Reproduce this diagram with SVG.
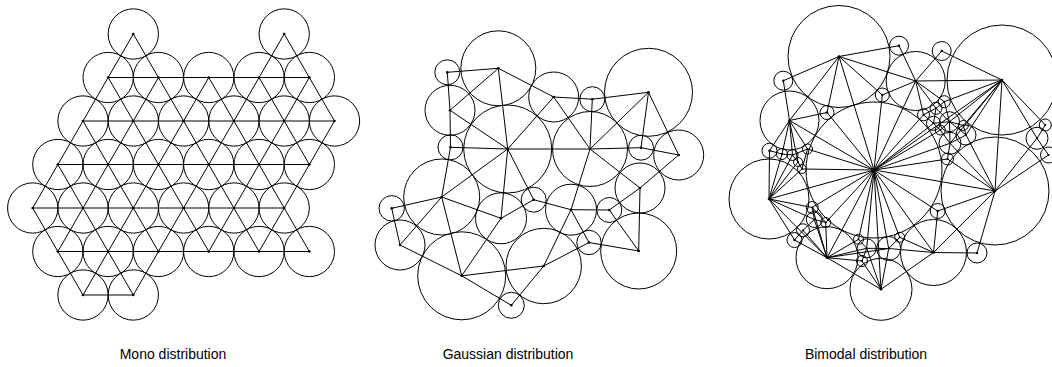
<svg xmlns="http://www.w3.org/2000/svg" width="1052" height="367" viewBox="0 0 1052 367">
<style>
.c{fill:none;stroke:#000;stroke-width:1}
.d{fill:#000}
.e line{stroke:#000;stroke-width:1}
.t{font-family:"Liberation Sans",Arial,sans-serif;font-size:14px;fill:#000;text-anchor:middle}
</style>
<rect width="1052" height="367" fill="#fff"/>
<!-- ===== Mono distribution ===== -->
<g id="mono-connectors" class="e">
<line x1="108.15" y1="77.5" x2="309.35" y2="77.5"/>
<line x1="83" y1="121" x2="334.5" y2="121"/>
<line x1="57.85" y1="164.5" x2="309.35" y2="164.5"/>
<line x1="32.7" y1="208" x2="284.2" y2="208"/>
<line x1="57.85" y1="251.5" x2="309.35" y2="251.5"/>
<line x1="83" y1="295" x2="133.3" y2="295"/>
<line x1="284.2" y1="34" x2="334.5" y2="121"/>
<line x1="259.05" y1="77.5" x2="309.35" y2="164.5"/>
<line x1="208.75" y1="77.5" x2="309.35" y2="251.5"/>
<line x1="133.3" y1="34" x2="259.05" y2="251.5"/>
<line x1="108.15" y1="77.5" x2="208.75" y2="251.5"/>
<line x1="83" y1="121" x2="158.45" y2="251.5"/>
<line x1="57.85" y1="164.5" x2="133.3" y2="295"/>
<line x1="32.7" y1="208" x2="83" y2="295"/>
<line x1="133.3" y1="34" x2="32.7" y2="208"/>
<line x1="158.45" y1="77.5" x2="57.85" y2="251.5"/>
<line x1="208.75" y1="77.5" x2="83" y2="295"/>
<line x1="284.2" y1="34" x2="133.3" y2="295"/>
<line x1="309.35" y1="77.5" x2="208.75" y2="251.5"/>
<line x1="334.5" y1="121" x2="259.05" y2="251.5"/>
</g>
<g id="m0a"><circle class="c" cx="133.3" cy="34" r="25.15"/><circle class="d" cx="133.3" cy="34" r="1.3"/></g>
<g id="m0b"><circle class="c" cx="284.2" cy="34" r="25.15"/><circle class="d" cx="284.2" cy="34" r="1.3"/></g>
<g id="m1a"><circle class="c" cx="108.15" cy="77.5" r="25.15"/><circle class="d" cx="108.15" cy="77.5" r="1.3"/></g>
<g id="m1b"><circle class="c" cx="158.45" cy="77.5" r="25.15"/><circle class="d" cx="158.45" cy="77.5" r="1.3"/></g>
<g id="m1c"><circle class="c" cx="208.75" cy="77.5" r="25.15"/><circle class="d" cx="208.75" cy="77.5" r="1.3"/></g>
<g id="m1d"><circle class="c" cx="259.05" cy="77.5" r="25.15"/><circle class="d" cx="259.05" cy="77.5" r="1.3"/></g>
<g id="m1e"><circle class="c" cx="309.35" cy="77.5" r="25.15"/><circle class="d" cx="309.35" cy="77.5" r="1.3"/></g>
<g id="m2a"><circle class="c" cx="83" cy="121" r="25.15"/><circle class="d" cx="83" cy="121" r="1.3"/></g>
<g id="m2b"><circle class="c" cx="133.3" cy="121" r="25.15"/><circle class="d" cx="133.3" cy="121" r="1.3"/></g>
<g id="m2c"><circle class="c" cx="183.6" cy="121" r="25.15"/><circle class="d" cx="183.6" cy="121" r="1.3"/></g>
<g id="m2d"><circle class="c" cx="233.9" cy="121" r="25.15"/><circle class="d" cx="233.9" cy="121" r="1.3"/></g>
<g id="m2e"><circle class="c" cx="284.2" cy="121" r="25.15"/><circle class="d" cx="284.2" cy="121" r="1.3"/></g>
<g id="m2f"><circle class="c" cx="334.5" cy="121" r="25.15"/><circle class="d" cx="334.5" cy="121" r="1.3"/></g>
<g id="m3a"><circle class="c" cx="57.85" cy="164.5" r="25.15"/><circle class="d" cx="57.85" cy="164.5" r="1.3"/></g>
<g id="m3b"><circle class="c" cx="108.15" cy="164.5" r="25.15"/><circle class="d" cx="108.15" cy="164.5" r="1.3"/></g>
<g id="m3c"><circle class="c" cx="158.45" cy="164.5" r="25.15"/><circle class="d" cx="158.45" cy="164.5" r="1.3"/></g>
<g id="m3d"><circle class="c" cx="208.75" cy="164.5" r="25.15"/><circle class="d" cx="208.75" cy="164.5" r="1.3"/></g>
<g id="m3e"><circle class="c" cx="259.05" cy="164.5" r="25.15"/><circle class="d" cx="259.05" cy="164.5" r="1.3"/></g>
<g id="m3f"><circle class="c" cx="309.35" cy="164.5" r="25.15"/><circle class="d" cx="309.35" cy="164.5" r="1.3"/></g>
<g id="m4a"><circle class="c" cx="32.7" cy="208" r="25.15"/><circle class="d" cx="32.7" cy="208" r="1.3"/></g>
<g id="m4b"><circle class="c" cx="83" cy="208" r="25.15"/><circle class="d" cx="83" cy="208" r="1.3"/></g>
<g id="m4c"><circle class="c" cx="133.3" cy="208" r="25.15"/><circle class="d" cx="133.3" cy="208" r="1.3"/></g>
<g id="m4d"><circle class="c" cx="183.6" cy="208" r="25.15"/><circle class="d" cx="183.6" cy="208" r="1.3"/></g>
<g id="m4e"><circle class="c" cx="233.9" cy="208" r="25.15"/><circle class="d" cx="233.9" cy="208" r="1.3"/></g>
<g id="m4f"><circle class="c" cx="284.2" cy="208" r="25.15"/><circle class="d" cx="284.2" cy="208" r="1.3"/></g>
<g id="m5a"><circle class="c" cx="57.85" cy="251.5" r="25.15"/><circle class="d" cx="57.85" cy="251.5" r="1.3"/></g>
<g id="m5b"><circle class="c" cx="108.15" cy="251.5" r="25.15"/><circle class="d" cx="108.15" cy="251.5" r="1.3"/></g>
<g id="m5c"><circle class="c" cx="158.45" cy="251.5" r="25.15"/><circle class="d" cx="158.45" cy="251.5" r="1.3"/></g>
<g id="m5d"><circle class="c" cx="208.75" cy="251.5" r="25.15"/><circle class="d" cx="208.75" cy="251.5" r="1.3"/></g>
<g id="m5e"><circle class="c" cx="259.05" cy="251.5" r="25.15"/><circle class="d" cx="259.05" cy="251.5" r="1.3"/></g>
<g id="m5f"><circle class="c" cx="309.35" cy="251.5" r="25.15"/><circle class="d" cx="309.35" cy="251.5" r="1.3"/></g>
<g id="m6a"><circle class="c" cx="83" cy="295" r="25.15"/><circle class="d" cx="83" cy="295" r="1.3"/></g>
<g id="m6b"><circle class="c" cx="133.3" cy="295" r="25.15"/><circle class="d" cx="133.3" cy="295" r="1.3"/></g>

<!-- ===== Gaussian distribution ===== -->
<g id="gauss-connectors" class="e">
<line x1="447.3" y1="72.3" x2="498.3" y2="68.3"/>
<line x1="447.3" y1="72.3" x2="450" y2="110.3"/>
<line x1="450" y1="110.3" x2="450.5" y2="147.3"/>
<line x1="498.3" y1="68.3" x2="450" y2="110.3"/>
<line x1="498.3" y1="68.3" x2="507.7" y2="149"/>
<line x1="498.3" y1="68.3" x2="553.7" y2="97"/>
<line x1="450" y1="110.3" x2="507.7" y2="149"/>
<line x1="450.5" y1="147.3" x2="507.7" y2="149"/>
<line x1="450.5" y1="147.3" x2="441.7" y2="197"/>
<line x1="507.7" y1="149" x2="553.7" y2="97"/>
<line x1="507.7" y1="149" x2="590" y2="149"/>
<line x1="507.7" y1="149" x2="441.7" y2="197"/>
<line x1="507.7" y1="149" x2="501" y2="218.3"/>
<line x1="507.7" y1="149" x2="533.7" y2="199.7"/>
<line x1="553.7" y1="97" x2="592.3" y2="99.2"/>
<line x1="553.7" y1="97" x2="590" y2="149"/>
<line x1="592.3" y1="99.2" x2="648.5" y2="92.3"/>
<line x1="592.3" y1="99.2" x2="590" y2="149"/>
<line x1="648.5" y1="92.3" x2="590" y2="149"/>
<line x1="648.5" y1="92.3" x2="641" y2="147.7"/>
<line x1="648.5" y1="92.3" x2="678.7" y2="155"/>
<line x1="590" y1="149" x2="641" y2="147.7"/>
<line x1="641" y1="147.7" x2="678.7" y2="155"/>
<line x1="590" y1="149" x2="640" y2="188"/>
<line x1="678.7" y1="155" x2="640" y2="188"/>
<line x1="590" y1="149" x2="571" y2="209.7"/>
<line x1="640" y1="188" x2="609.3" y2="210"/>
<line x1="640" y1="188" x2="638.7" y2="251"/>
<line x1="609.3" y1="210" x2="638.7" y2="251"/>
<line x1="571" y1="209.7" x2="609.3" y2="210"/>
<line x1="571" y1="209.7" x2="589" y2="242.5"/>
<line x1="589" y1="242.5" x2="638.7" y2="251"/>
<line x1="589" y1="242.5" x2="543.7" y2="266"/>
<line x1="571" y1="209.7" x2="543.7" y2="266"/>
<line x1="533.7" y1="199.7" x2="501" y2="218.3"/>
<line x1="533.7" y1="199.7" x2="571" y2="209.7"/>
<line x1="441.7" y1="197" x2="391.7" y2="208.3"/>
<line x1="441.7" y1="197" x2="501" y2="218.3"/>
<line x1="441.7" y1="197" x2="400" y2="245"/>
<line x1="441.7" y1="197" x2="461.7" y2="275.8"/>
<line x1="391.7" y1="208.3" x2="400" y2="245"/>
<line x1="400" y1="245" x2="461.7" y2="275.8"/>
<line x1="501" y1="218.3" x2="461.7" y2="275.8"/>
<line x1="461.7" y1="275.8" x2="543.7" y2="266"/>
<line x1="461.7" y1="275.8" x2="511.3" y2="305.3"/>
<line x1="511.3" y1="305.3" x2="543.7" y2="266"/>
</g>
<g id="g1"><circle class="c" cx="447.3" cy="72.3" r="12.5"/><circle class="d" cx="447.3" cy="72.3" r="1.3"/></g>
<g id="g2"><circle class="c" cx="498.3" cy="68.3" r="37.5"/><circle class="d" cx="498.3" cy="68.3" r="1.3"/></g>
<g id="g3"><circle class="c" cx="450" cy="110.3" r="25"/><circle class="d" cx="450" cy="110.3" r="1.3"/></g>
<g id="g4"><circle class="c" cx="450.5" cy="147.3" r="12.5"/><circle class="d" cx="450.5" cy="147.3" r="1.3"/></g>
<g id="g5"><circle class="c" cx="507.7" cy="149" r="44"/><circle class="d" cx="507.7" cy="149" r="1.3"/></g>
<g id="g6"><circle class="c" cx="553.7" cy="97" r="25"/><circle class="d" cx="553.7" cy="97" r="1.3"/></g>
<g id="g7"><circle class="c" cx="592.3" cy="99.2" r="12.5"/><circle class="d" cx="592.3" cy="99.2" r="1.3"/></g>
<g id="g8"><circle class="c" cx="648.5" cy="92.3" r="44"/><circle class="d" cx="648.5" cy="92.3" r="1.3"/></g>
<g id="g9"><circle class="c" cx="590" cy="149" r="37.5"/><circle class="d" cx="590" cy="149" r="1.3"/></g>
<g id="g10"><circle class="c" cx="641" cy="147.7" r="12.5"/><circle class="d" cx="641" cy="147.7" r="1.3"/></g>
<g id="g11"><circle class="c" cx="678.7" cy="155" r="25"/><circle class="d" cx="678.7" cy="155" r="1.3"/></g>
<g id="g12"><circle class="c" cx="640" cy="188" r="25"/><circle class="d" cx="640" cy="188" r="1.3"/></g>
<g id="g13"><circle class="c" cx="441.7" cy="197" r="38"/><circle class="d" cx="441.7" cy="197" r="1.3"/></g>
<g id="g14"><circle class="c" cx="391.7" cy="208.3" r="12.7"/><circle class="d" cx="391.7" cy="208.3" r="1.3"/></g>
<g id="g15"><circle class="c" cx="533.7" cy="199.7" r="12.5"/><circle class="d" cx="533.7" cy="199.7" r="1.3"/></g>
<g id="g16"><circle class="c" cx="501" cy="218.3" r="25.5"/><circle class="d" cx="501" cy="218.3" r="1.3"/></g>
<g id="g17"><circle class="c" cx="571" cy="209.7" r="25.5"/><circle class="d" cx="571" cy="209.7" r="1.3"/></g>
<g id="g18"><circle class="c" cx="609.3" cy="210" r="12.5"/><circle class="d" cx="609.3" cy="210" r="1.3"/></g>
<g id="g19"><circle class="c" cx="400" cy="245" r="25"/><circle class="d" cx="400" cy="245" r="1.3"/></g>
<g id="g20"><circle class="c" cx="461.7" cy="275.8" r="44"/><circle class="d" cx="461.7" cy="275.8" r="1.3"/></g>
<g id="g21"><circle class="c" cx="543.7" cy="266" r="37.7"/><circle class="d" cx="543.7" cy="266" r="1.3"/></g>
<g id="g22"><circle class="c" cx="589" cy="242.5" r="12.2"/><circle class="d" cx="589" cy="242.5" r="1.3"/></g>
<g id="g23"><circle class="c" cx="638.7" cy="251" r="38"/><circle class="d" cx="638.7" cy="251" r="1.3"/></g>
<g id="g24"><circle class="c" cx="511.3" cy="305.3" r="13"/><circle class="d" cx="511.3" cy="305.3" r="1.3"/></g>

<!-- ===== Bimodal distribution ===== -->
<g id="bimodal-connectors" class="e">
<line x1="874" y1="170" x2="839" y2="56.5"/>
<line x1="874" y1="170" x2="882.3" y2="95"/>
<line x1="874" y1="170" x2="915.7" y2="81"/>
<line x1="874" y1="170" x2="923.5" y2="114.8"/>
<line x1="874" y1="170" x2="933.5" y2="123.3"/>
<line x1="874" y1="170" x2="940.3" y2="130"/>
<line x1="874" y1="170" x2="950" y2="143.3"/>
<line x1="874" y1="170" x2="1002" y2="80"/>
<line x1="874" y1="170" x2="947.5" y2="159"/>
<line x1="874" y1="170" x2="995" y2="191"/>
<line x1="874" y1="170" x2="937.7" y2="211"/>
<line x1="874" y1="170" x2="933.5" y2="252.5"/>
<line x1="874" y1="170" x2="899.7" y2="237.3"/>
<line x1="874" y1="170" x2="888.7" y2="248.5"/>
<line x1="874" y1="170" x2="866.7" y2="248.3"/>
<line x1="874" y1="170" x2="858.5" y2="239.3"/>
<line x1="874" y1="170" x2="881" y2="289.3"/>
<line x1="874" y1="170" x2="827" y2="257.7"/>
<line x1="874" y1="170" x2="825.7" y2="222.5"/>
<line x1="874" y1="170" x2="812.3" y2="207.5"/>
<line x1="874" y1="170" x2="769" y2="199"/>
<line x1="874" y1="170" x2="802" y2="169"/>
<line x1="874" y1="170" x2="807.5" y2="149"/>
<line x1="874" y1="170" x2="789.5" y2="120.5"/>
<line x1="874" y1="170" x2="827" y2="112.5"/>
<line x1="839" y1="56.5" x2="783.3" y2="80.7"/>
<line x1="839" y1="56.5" x2="789.5" y2="120.5"/>
<line x1="839" y1="56.5" x2="827" y2="112.5"/>
<line x1="839" y1="56.5" x2="882.3" y2="95"/>
<line x1="839" y1="56.5" x2="899" y2="45.7"/>
<line x1="839" y1="56.5" x2="915.7" y2="81"/>
<line x1="783.3" y1="80.7" x2="789.5" y2="120.5"/>
<line x1="789.5" y1="120.5" x2="827" y2="112.5"/>
<line x1="789.5" y1="120.5" x2="769.5" y2="150.7"/>
<line x1="789.5" y1="120.5" x2="782" y2="154"/>
<line x1="789.5" y1="120.5" x2="792.5" y2="155"/>
<line x1="789.5" y1="120.5" x2="798" y2="162"/>
<line x1="789.5" y1="120.5" x2="807.5" y2="149"/>
<line x1="899" y1="45.7" x2="915.7" y2="81"/>
<line x1="941.7" y1="51" x2="915.7" y2="81"/>
<line x1="941.7" y1="51" x2="1002" y2="80"/>
<line x1="915.7" y1="81" x2="1002" y2="80"/>
<line x1="915.7" y1="81" x2="882.3" y2="95"/>
<line x1="915.7" y1="81" x2="923.5" y2="114.8"/>
<line x1="915.7" y1="81" x2="936" y2="108.3"/>
<line x1="915.7" y1="81" x2="944.3" y2="101.7"/>
<line x1="1002" y1="80" x2="944.3" y2="101.7"/>
<line x1="1002" y1="80" x2="949.5" y2="121.7"/>
<line x1="1002" y1="80" x2="963.3" y2="125.5"/>
<line x1="1002" y1="80" x2="966" y2="135"/>
<line x1="1002" y1="80" x2="950" y2="143.3"/>
<line x1="1002" y1="80" x2="995" y2="191"/>
<line x1="1002" y1="80" x2="1045.3" y2="125"/>
<line x1="1002" y1="80" x2="1037" y2="138.3"/>
<line x1="995" y1="191" x2="1037" y2="138.3"/>
<line x1="995" y1="191" x2="1048.5" y2="155"/>
<line x1="995" y1="191" x2="966" y2="135"/>
<line x1="995" y1="191" x2="950" y2="143.3"/>
<line x1="995" y1="191" x2="947.5" y2="159"/>
<line x1="995" y1="191" x2="937.7" y2="211"/>
<line x1="995" y1="191" x2="933.5" y2="252.5"/>
<line x1="995" y1="191" x2="977" y2="253"/>
<line x1="933.5" y1="252.5" x2="977" y2="253"/>
<line x1="933.5" y1="252.5" x2="937.7" y2="211"/>
<line x1="933.5" y1="252.5" x2="899.7" y2="237.3"/>
<line x1="933.5" y1="252.5" x2="888.7" y2="248.5"/>
<line x1="933.5" y1="252.5" x2="881" y2="289.3"/>
<line x1="881" y1="289.3" x2="888.7" y2="248.5"/>
<line x1="881" y1="289.3" x2="862" y2="261"/>
<line x1="881" y1="289.3" x2="866.7" y2="248.3"/>
<line x1="881" y1="289.3" x2="827" y2="257.7"/>
<line x1="827" y1="257.7" x2="858.5" y2="239.3"/>
<line x1="827" y1="257.7" x2="866.7" y2="248.3"/>
<line x1="827" y1="257.7" x2="862" y2="261"/>
<line x1="827" y1="257.7" x2="888.7" y2="248.5"/>
<line x1="827" y1="257.7" x2="825.7" y2="222.5"/>
<line x1="827" y1="257.7" x2="814.3" y2="219.5"/>
<line x1="827" y1="257.7" x2="812.3" y2="207.5"/>
<line x1="827" y1="257.7" x2="803" y2="230.3"/>
<line x1="827" y1="257.7" x2="794.5" y2="240"/>
<line x1="827" y1="257.7" x2="769" y2="199"/>
<line x1="769" y1="199" x2="769.5" y2="150.7"/>
<line x1="769" y1="199" x2="782" y2="154"/>
<line x1="769" y1="199" x2="792.5" y2="155"/>
<line x1="769" y1="199" x2="798" y2="162"/>
<line x1="769" y1="199" x2="802" y2="169"/>
<line x1="769" y1="199" x2="812.3" y2="207.5"/>
<line x1="769" y1="199" x2="814.3" y2="219.5"/>
<line x1="769" y1="199" x2="794.5" y2="240"/>
<line x1="769.5" y1="150.7" x2="782" y2="154"/>
<line x1="782" y1="154" x2="792.5" y2="155"/>
<line x1="792.5" y1="155" x2="798" y2="162"/>
<line x1="798" y1="162" x2="802" y2="169"/>
<line x1="792.5" y1="155" x2="807.5" y2="149"/>
<line x1="807.5" y1="149" x2="802" y2="169"/>
<line x1="812.3" y1="207.5" x2="814.3" y2="219.5"/>
<line x1="814.3" y1="219.5" x2="825.7" y2="222.5"/>
<line x1="814.3" y1="219.5" x2="803" y2="230.3"/>
<line x1="803" y1="230.3" x2="794.5" y2="240"/>
<line x1="812.3" y1="207.5" x2="825.7" y2="222.5"/>
<line x1="858.5" y1="239.3" x2="866.7" y2="248.3"/>
<line x1="866.7" y1="248.3" x2="862" y2="261"/>
<line x1="866.7" y1="248.3" x2="888.7" y2="248.5"/>
<line x1="888.7" y1="248.5" x2="899.7" y2="237.3"/>
<line x1="944.3" y1="101.7" x2="936" y2="108.3"/>
<line x1="936" y1="108.3" x2="923.5" y2="114.8"/>
<line x1="944.3" y1="101.7" x2="949.5" y2="121.7"/>
<line x1="936" y1="108.3" x2="949.5" y2="121.7"/>
<line x1="936" y1="108.3" x2="933.5" y2="123.3"/>
<line x1="923.5" y1="114.8" x2="933.5" y2="123.3"/>
<line x1="933.5" y1="123.3" x2="949.5" y2="121.7"/>
<line x1="933.5" y1="123.3" x2="940.3" y2="130"/>
<line x1="940.3" y1="130" x2="949.5" y2="121.7"/>
<line x1="949.5" y1="121.7" x2="963.3" y2="125.5"/>
<line x1="963.3" y1="125.5" x2="966" y2="135"/>
<line x1="949.5" y1="121.7" x2="966" y2="135"/>
<line x1="966" y1="135" x2="950" y2="143.3"/>
<line x1="950" y1="143.3" x2="940.3" y2="130"/>
<line x1="950" y1="143.3" x2="949.5" y2="121.7"/>
<line x1="950" y1="143.3" x2="947.5" y2="159"/>
<line x1="1045.3" y1="125" x2="1037" y2="138.3"/>
<line x1="1037" y1="138.3" x2="1048.5" y2="155"/>
</g>
<g id="bC"><circle class="c" cx="874" cy="170" r="68"/><circle class="d" cx="874" cy="170" r="1.6"/></g>
<g id="bB1"><circle class="c" cx="839" cy="56.5" r="51"/><circle class="d" cx="839" cy="56.5" r="1.3"/></g>
<g id="bB2"><circle class="c" cx="1002" cy="80" r="55"/><circle class="d" cx="1002" cy="80" r="1.3"/></g>
<g id="bB3"><circle class="c" cx="995" cy="191" r="54"/><circle class="d" cx="995" cy="191" r="1.3"/></g>
<g id="bB4"><circle class="c" cx="769" cy="199" r="40"/><circle class="d" cx="769" cy="199" r="1.3"/></g>
<g id="bB5"><circle class="c" cx="789.5" cy="120.5" r="29.5"/><circle class="d" cx="789.5" cy="120.5" r="1.3"/></g>
<g id="bB6"><circle class="c" cx="915.7" cy="81" r="29.5"/><circle class="d" cx="915.7" cy="81" r="1.3"/></g>
<g id="bB7"><circle class="c" cx="827" cy="257.7" r="31"/><circle class="d" cx="827" cy="257.7" r="1.3"/></g>
<g id="bB8"><circle class="c" cx="881" cy="289.3" r="31"/><circle class="d" cx="881" cy="289.3" r="1.3"/></g>
<g id="bB9"><circle class="c" cx="933.5" cy="252.5" r="33"/><circle class="d" cx="933.5" cy="252.5" r="1.3"/></g>
<g id="bS1"><circle class="c" cx="783.3" cy="80.7" r="9.5"/><circle class="d" cx="783.3" cy="80.7" r="1.2"/></g>
<g id="bS2"><circle class="c" cx="899" cy="45.7" r="9.5"/><circle class="d" cx="899" cy="45.7" r="1.2"/></g>
<g id="bS3"><circle class="c" cx="941.7" cy="51" r="9.5"/><circle class="d" cx="941.7" cy="51" r="1.2"/></g>
<g id="bS4"><circle class="c" cx="882.3" cy="95" r="7"/><circle class="d" cx="882.3" cy="95" r="1.2"/></g>
<g id="bS5"><circle class="c" cx="827" cy="112.5" r="7"/><circle class="d" cx="827" cy="112.5" r="1.2"/></g>
<g id="bS6"><circle class="c" cx="769.5" cy="150.7" r="7.5"/><circle class="d" cx="769.5" cy="150.7" r="1.2"/></g>
<g id="bS7"><circle class="c" cx="977" cy="253" r="10"/><circle class="d" cx="977" cy="253" r="1.2"/></g>
<g id="bS8"><circle class="c" cx="937.7" cy="211" r="7.5"/><circle class="d" cx="937.7" cy="211" r="1.2"/></g>
<g id="bS10"><circle class="c" cx="794.5" cy="240" r="7.5"/><circle class="d" cx="794.5" cy="240" r="1.2"/></g>
<g id="bL1"><circle class="c" cx="782" cy="154" r="5.5"/><circle class="d" cx="782" cy="154" r="1"/></g>
<g id="bL2"><circle class="c" cx="792.5" cy="155" r="5.5"/><circle class="d" cx="792.5" cy="155" r="1"/></g>
<g id="bL3"><circle class="c" cx="798" cy="162" r="4.5"/><circle class="d" cx="798" cy="162" r="1"/></g>
<g id="bL4"><circle class="c" cx="807.5" cy="149" r="5"/><circle class="d" cx="807.5" cy="149" r="1"/></g>
<g id="bL5"><circle class="c" cx="802" cy="169" r="4.5"/><circle class="d" cx="802" cy="169" r="1"/></g>
<g id="bD1"><circle class="c" cx="812.3" cy="207.5" r="6"/><circle class="d" cx="812.3" cy="207.5" r="1"/></g>
<g id="bD2"><circle class="c" cx="814.3" cy="219.5" r="8"/><circle class="d" cx="814.3" cy="219.5" r="1"/></g>
<g id="bD3"><circle class="c" cx="825.7" cy="222.5" r="5"/><circle class="d" cx="825.7" cy="222.5" r="1"/></g>
<g id="bD4"><circle class="c" cx="803" cy="230.3" r="6.5"/><circle class="d" cx="803" cy="230.3" r="1"/></g>
<g id="bE1"><circle class="c" cx="858.5" cy="239.3" r="5"/><circle class="d" cx="858.5" cy="239.3" r="1"/></g>
<g id="bE2"><circle class="c" cx="866.7" cy="248.3" r="9.5"/><circle class="d" cx="866.7" cy="248.3" r="1"/></g>
<g id="bE3"><circle class="c" cx="862" cy="261" r="5.5"/><circle class="d" cx="862" cy="261" r="1"/></g>
<g id="bE4"><circle class="c" cx="888.7" cy="248.5" r="12"/><circle class="d" cx="888.7" cy="248.5" r="1"/></g>
<g id="bE5"><circle class="c" cx="899.7" cy="237.3" r="5"/><circle class="d" cx="899.7" cy="237.3" r="1"/></g>
<g id="bR1"><circle class="c" cx="944.3" cy="101.7" r="6"/><circle class="d" cx="944.3" cy="101.7" r="1"/></g>
<g id="bR2"><circle class="c" cx="936" cy="108.3" r="6"/><circle class="d" cx="936" cy="108.3" r="1"/></g>
<g id="bR3"><circle class="c" cx="923.5" cy="114.8" r="6"/><circle class="d" cx="923.5" cy="114.8" r="1"/></g>
<g id="bR4"><circle class="c" cx="949.5" cy="121.7" r="10"/><circle class="d" cx="949.5" cy="121.7" r="1"/></g>
<g id="bR5"><circle class="c" cx="933.5" cy="123.3" r="7"/><circle class="d" cx="933.5" cy="123.3" r="1"/></g>
<g id="bR6"><circle class="c" cx="940.3" cy="130" r="5"/><circle class="d" cx="940.3" cy="130" r="1"/></g>
<g id="bR7"><circle class="c" cx="963.3" cy="125.5" r="5"/><circle class="d" cx="963.3" cy="125.5" r="1"/></g>
<g id="bR8"><circle class="c" cx="966" cy="135" r="10"/><circle class="d" cx="966" cy="135" r="1"/></g>
<g id="bR9"><circle class="c" cx="950" cy="143.3" r="11"/><circle class="d" cx="950" cy="143.3" r="1"/></g>
<g id="bR10"><circle class="c" cx="947.5" cy="159" r="6"/><circle class="d" cx="947.5" cy="159" r="1"/></g>
<g id="bQ1"><circle class="c" cx="1045.3" cy="125" r="6"/><circle class="d" cx="1045.3" cy="125" r="1"/></g>
<g id="bQ2"><circle class="c" cx="1037" cy="138.3" r="11"/><circle class="d" cx="1037" cy="138.3" r="1"/></g>
<g id="bQ3"><circle class="c" cx="1048.5" cy="155" r="8"/><circle class="d" cx="1048.5" cy="155" r="1"/></g>

<g id="labels">
<text class="t" x="173" y="359">Mono distribution</text>
<text class="t" x="508" y="359">Gaussian distribution</text>
<text class="t" x="866" y="359">Bimodal distribution</text>
</g>
</svg>
